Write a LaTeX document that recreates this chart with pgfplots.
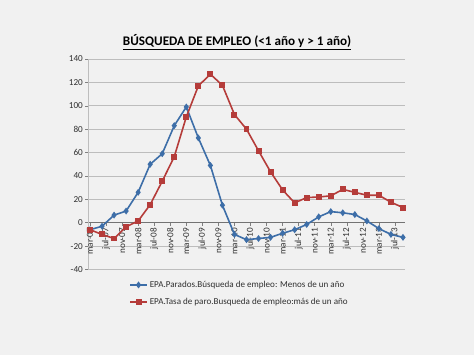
\documentclass[border=0pt]{standalone}
\usepackage{fontspec}
\setmainfont{Carlito}
\usepackage{pgfplots}
\pgfplotsset{compat=1.18}
\usepackage{pgfplotstable}
\definecolor{bg}{HTML}{F1F1F1}
\definecolor{sblue}{HTML}{3D6EA8}
\definecolor{sred}{HTML}{B53C3A}
\definecolor{gridc}{HTML}{BDBDBD}
\definecolor{txt}{HTML}{303030}
\pgfplotstableread{
m blue red
0 -6 -6
3 -3 -10
6 6.5 -13.5
9 10 -3.5
12 26 1.5
15 50 15.5
18 59 35.5
21 83 56.5
24 99 90.5
27 72.5 117
30 49 127
33 15 117.5
36 -10 92.5
39 -14.5 80
42 -13.5 61.5
45 -12.5 43.5
48 -9 28
51 -6 17
54 -1.5 21.5
57 5 22
60 9.5 23
63 8.5 28.5
66 7 26
69 1.5 23.5
72 -5 23.5
75 -10 17.5
78 -12.5 13
}\datatable
\begin{document}
\begin{tikzpicture}
\fill[bg] (0bp,0bp) rectangle (474bp,355bp);
\useasboundingbox (0bp,0bp) rectangle (474bp,355bp);
\node[font=\fontsize{13.2}{15}\selectfont\bfseries, text=black, anchor=base] at (237bp,309bp) {\underline{BÚSQUEDA DE EMPLEO (<1 año y > 1 año)}};
\begin{axis}[
  at={(88bp,85.5bp)}, anchor=south west,
  width=317bp, height=210.5bp, scale only axis,
  xmin=-0.5, xmax=78.5, ymin=-40, ymax=140,
  axis x line=middle, axis y line=left,
  axis line style={-},
  x axis line style={draw=gray!90!black, line width=0.8pt},
  y axis line style={draw=gridc, line width=0.6pt},
  ytick={-40,-20,...,140},
  xtick={0,4,...,76},
  xticklabels={mar-07,jul-07,nov-07,mar-08,jul-08,nov-08,mar-09,jul-09,nov-09,mar-10,jul-10,nov-10,mar-11,jul-11,nov-11,mar-12,jul-12,nov-12,mar-13,jul-13},
  xticklabel style={rotate=90, anchor=east, font=\fontsize{9.2}{10}\selectfont, text=txt, inner sep=2pt},
  yticklabel style={font=\fontsize{9.2}{10}\selectfont, text=txt, inner sep=2pt},
  /pgf/number format/assume math mode=true,
  ymajorgrids, grid style={draw=gridc, line width=0.6pt},
  major tick length=3pt,
  tick style={draw=gray, line width=0.5pt},
  tick align=outside,
  legend style={at={(0.12,-0.035)}, anchor=north west, draw=none, fill=none,
    font=\fontsize{9.1}{10}\selectfont, text=txt, row sep=5pt},
  legend cell align=left,
]
\addplot[sblue, line width=1.6pt, mark=diamond*, mark size=2.2pt, mark options={solid, fill=sblue}] table[x=m, y=blue] {\datatable};
\addlegendentry{EPA.Parados.Búsqueda de empleo: Menos de un año}
\addplot[sred, line width=1.6pt, mark=square*, mark size=2.2pt, mark options={solid, fill=sred}] table[x=m, y=red] {\datatable};
\addlegendentry{EPA.Tasa de paro.Busqueda de empleo:más de un año}
\end{axis}
\end{tikzpicture}
\end{document}
